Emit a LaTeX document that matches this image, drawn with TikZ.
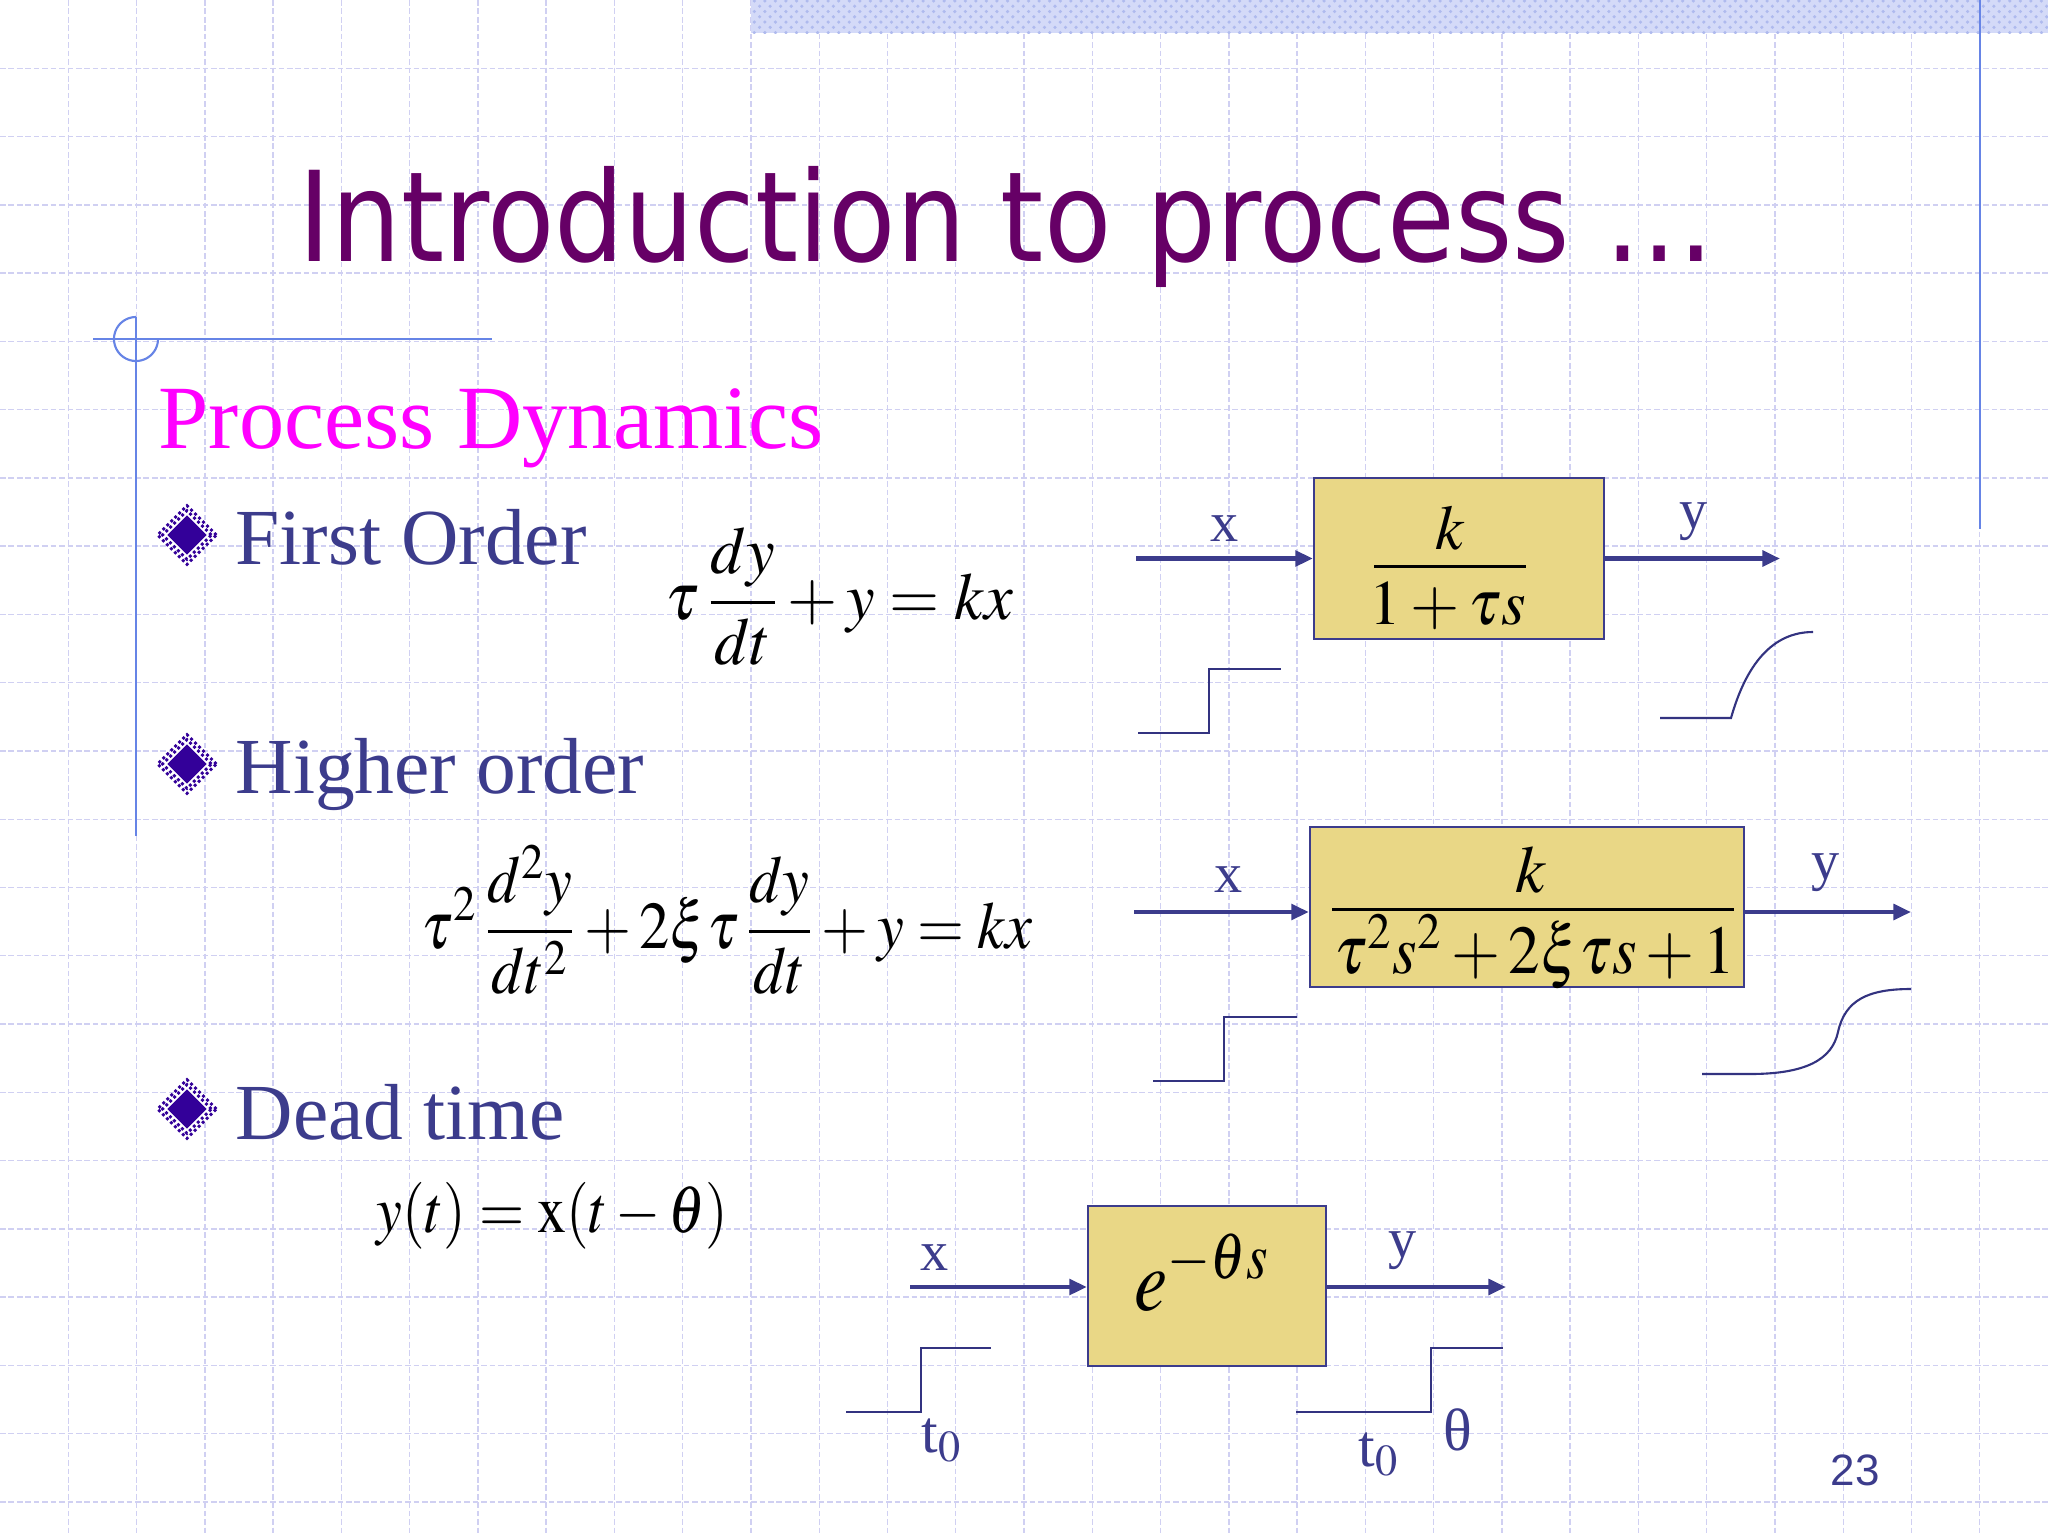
\documentclass[tikz,border=0pt]{standalone}
\usepackage{mathptmx}
\usepackage[no-math]{fontspec}
\usepackage{graphicx}
\setmainfont{Liberation Serif}
\newfontfamily\titlefont{DejaVu Sans}
\newfontfamily\numfont{Liberation Sans}
\usetikzlibrary{arrows.meta,patterns,shapes.geometric}
\definecolor{txtblue}{RGB}{60,60,140}
\definecolor{titlepurple}{RGB}{102,0,102}
\definecolor{magentac}{RGB}{255,0,255}
\definecolor{bulletc}{RGB}{51,0,153}
\definecolor{gridc}{RGB}{208,208,242}
\definecolor{bandc}{RGB}{212,218,248}
\definecolor{bandpat}{RGB}{175,186,238}
\definecolor{decoc}{RGB}{102,132,230}
\definecolor{boxfill}{RGB}{233,215,134}
\definecolor{stepc}{RGB}{51,51,128}
\begin{document}
\begin{tikzpicture}[x=0.01cm,y=-0.01cm,
  gridline/.style={draw=gridc, line width=0.4pt, dash pattern=on 1.6pt off 0.8pt},
  decoline/.style={draw=decoc, line width=0.6pt},
  blk/.style={draw=txtblue, line width=0.6pt, fill=boxfill, inner sep=0},
  arr/.style={draw=txtblue, line width=1.2pt, -{Triangle[length=5pt,width=4.4pt]}},
  stepline/.style={draw=stepc, line width=0.6pt},
  fracbar/.style={draw=black, line width=0.85pt},
  lbl/.style={inner sep=0, text=txtblue, font=\fontsize{16}{18}\selectfont},
  bodytxt/.style={inner sep=0, anchor=base west, text=txtblue, font=\fontsize{22.6}{26}\selectfont},
  eqn/.style={inner sep=0, anchor=base west, font=\fontsize{19}{23}\selectfont},
  boxmath/.style={inner sep=0, anchor=base, font=\fontsize{18}{21}\selectfont},
  bouter/.style={diamond, aspect=1, inner sep=0, minimum size=0.6cm, draw=bulletc, fill=white, line width=0.8pt, dash pattern=on 0.8pt off 0.8pt},
  bmid/.style={diamond, aspect=1, inner sep=0, minimum size=0.5cm, draw=bulletc, line width=0.8pt, dash pattern=on 0.8pt off 0.8pt},
  binner/.style={diamond, aspect=1, inner sep=0, minimum size=0.4cm, fill=bulletc}
]
\useasboundingbox (0,0) rectangle (2048,1536);
\fill[white] (0,0) rectangle (2048,1536);
% grid
\foreach \i in {1,...,29} \draw[gridline] ({\i*68.2667},0) -- ({\i*68.2667},1536);
\foreach \j in {1,...,22} \draw[gridline] (0,{\j*68.2667}) -- (2048,{\j*68.2667});
% top band
\fill[bandc] (751,0) rectangle (2048,33);
\fill[pattern=crosshatch dots, pattern color=bandpat] (751,0) rectangle (2048,33);
\draw[decoline] (1980,0) -- (1980,529);
% left decoration
\draw[decoline] (93,339) -- (492,339);
\draw[decoline] (136,317) -- (136,836);
\draw[decoline] plot[domain=90:360, samples=50] ({136+22*cos(\x)}, {339-22*sin(\x)});
% title
\node[anchor=base west, inner sep=0, text=titlepurple, font=\titlefont\fontsize{35.6}{40}\selectfont] (title) at (298,261) {\scalebox{0.88}[1]{Introduction to process …}};
% heading
\node[anchor=base west, inner sep=0, text=magentac, font=\fontsize{25.7}{30}\selectfont] (head) at (158,448) {Process Dynamics};
% bullets
\node[bouter] (d1o) at (187,535) {};
\node[bmid] (d1m) at (187,535) {};
\node[binner] (d1i) at (187,535) {};
\node[bodytxt] (t1) at (235,564) {First Order};
\node[bouter] (d2o) at (187,764) {};
\node[bmid] (d2m) at (187,764) {};
\node[binner] (d2i) at (187,764) {};
\node[bodytxt] (t2) at (235,793) {Higher order};
\node[bouter] (d3o) at (187,1109) {};
\node[bmid] (d3m) at (187,1109) {};
\node[binner] (d3i) at (187,1109) {};
\node[bodytxt] (t3) at (235,1139) {Dead time};
% equations
\node[eqn] (eq1) at (665,619) {\scalebox{0.965}[1]{$\displaystyle \tau\,\frac{dy}{dt}+y=kx$}};
\node[eqn] (eq2) at (421,948) {\scalebox{0.905}[1]{$\displaystyle \tau^2\,\frac{d^2y}{dt^2}+2\xi\tau\,\frac{dy}{dt}+y=kx$}};
\node[eqn] (eq3) at (376,1232) {\scalebox{0.87}[1]{$y(t)=\mathrm{x}(t-\theta)$}};
% block 1
\node[blk, minimum width=2.9cm, minimum height=1.61cm] (b1) at (1459,558.5) {};
\node[boxmath] (b1num) at (1450,549) {$k$};
\draw[fracbar] (1374,566) -- (1526,566);
\node[boxmath] (b1den) at (1448,624) {$1+\tau s$};
\coordinate (b1in) at (1136,558.5);
\coordinate (b1out) at (1780,558.5);
\draw[arr] (b1in) -- (b1.west);
\draw[arr] (b1.east) -- (b1out);
\node[lbl, anchor=base] (b1x) at (1225,541) {x};
\node[lbl, anchor=base] (b1y) at (1694,528) {y};
\draw[stepline] (1138,733) -- (1209,733) -- (1209,669) -- (1281,669);
\draw[stepline] (1660,718) -- (1731,718) .. controls (1746,665) and (1772,632) .. (1813,632);
% block 2
\node[blk, minimum width=4.34cm, minimum height=1.6cm] (b2) at (1527,907) {};
\node[boxmath, font=\fontsize{19}{22}\selectfont] (b2num) at (1531,892) {$k$};
\draw[fracbar] (1332,909) -- (1734,909);
\node[boxmath, font=\fontsize{19.5}{23}\selectfont] (b2den) at (1535,973) {\scalebox{0.92}[1]{$\tau^2s^2+2\xi\tau s+1$}};
\coordinate (b2in) at (1134,912);
\coordinate (b2out) at (1911,912);
\draw[arr] (b2in) -- (b2in -| b2.west);
\draw[arr] (b2in -| b2.east) -- (b2out);
\node[lbl, anchor=base] (b2x) at (1229,892) {x};
\node[lbl, anchor=base] (b2y) at (1826,879) {y};
\draw[stepline] (1153,1081) -- (1224,1081) -- (1224,1017) -- (1297,1017);
\draw[stepline] (1702,1074) -- (1750,1074) .. controls (1805,1074) and (1832,1060) .. (1838,1032) .. controls (1845,1000) and (1868,989) .. (1911,989);
% block 3
\node[blk, minimum width=2.38cm, minimum height=1.6cm] (b3) at (1207,1286) {};
\node[inner sep=0, anchor=base west, font=\fontsize{25}{28}\selectfont] (b3txt) at (1134,1310) {\scalebox{0.85}[1]{$e^{-\theta s}$}};
\coordinate (b3in) at (910,1287);
\coordinate (b3out) at (1506,1287);
\draw[arr] (b3in) -- (b3in -| b3.west);
\draw[arr] (b3in -| b3.east) -- (b3out);
\node[lbl, anchor=base] (b3x) at (935,1270) {x};
\node[lbl, anchor=base] (b3y) at (1403,1257) {y};
\draw[stepline] (846,1412) -- (921,1412) -- (921,1348) -- (991,1348);
\draw[stepline] (1296,1412) -- (1431,1412) -- (1431,1348) -- (1503,1348);
\node[lbl, anchor=base west, font=\fontsize{17}{19}\selectfont] (t0a) at (921,1452) {t$_0$};
\node[lbl, anchor=base west, font=\fontsize{17}{19}\selectfont] (t0b) at (1358,1466) {t$_0$};
\node[lbl, anchor=base west, font=\fontsize{17}{19}\selectfont] (th) at (1443,1450) {θ};
% page number
\node[anchor=base west, inner sep=0, text=txtblue, font=\numfont\fontsize{12.5}{14}\selectfont] (pg) at (1830,1485) {23};
\end{tikzpicture}
\end{document}
